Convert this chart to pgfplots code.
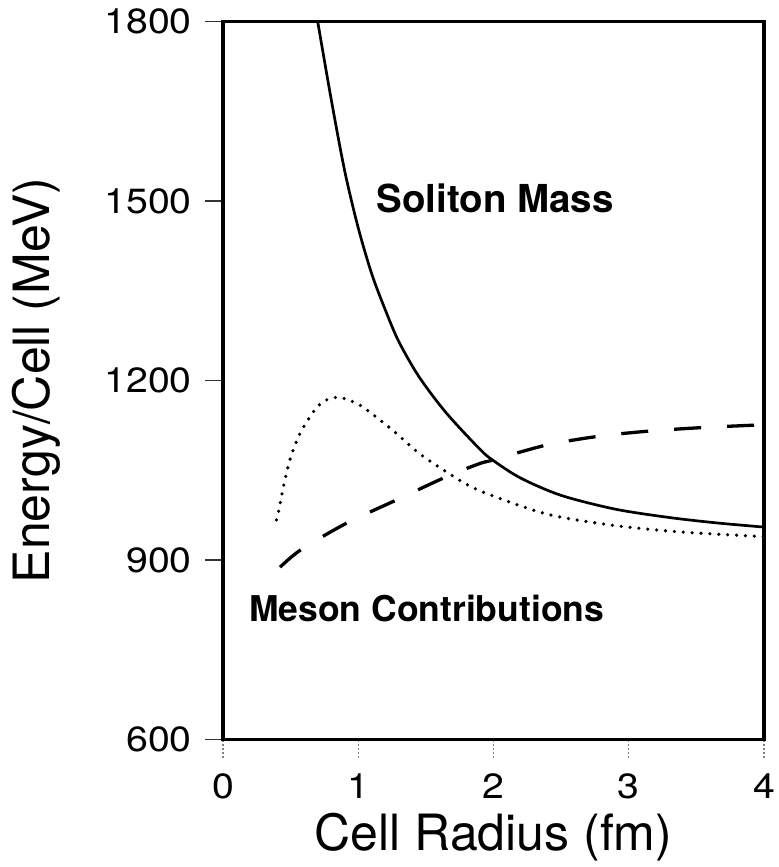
\documentclass[border=0pt]{standalone}
\usepackage{fontspec}
\setmainfont{TeX Gyre Heros}
\newfontfamily\tickfont[FakeStretch=1.12]{TeX Gyre Heros}
\usepackage{pgfplots}
\pgfplotsset{compat=1.18}
\begin{document}
\begin{tikzpicture}
\useasboundingbox (-223bp,-127.5bp) rectangle (556bp,739.5bp);
\begin{axis}[
  at={(0,0)}, anchor=south west,
  scale only axis, width=541bp, height=718bp,
  xmin=0, xmax=4, ymin=600, ymax=1800,
  xtick={0,1,2,3,4}, ytick={600,900,1200,1500,1800},
  xtick pos=bottom, ytick pos=left,
  tick align=outside, major tick length=18bp,
  axis line style={line width=3.2bp},
  ytick style={line width=1.4bp, black!80},
  xtick style={line width=1.1bp, black!50, dash pattern=on 2bp off 2bp},
  /pgf/number format/assume math mode=true,
  /pgf/number format/1000 sep={},
  ticklabel style={font=\tickfont\fontsize{35bp}{35bp}\selectfont, inner sep=0pt},
  xticklabel style={anchor=north, yshift=-15.5bp},
  yticklabel style={anchor=east, xshift=-13bp},
  xlabel={Cell Radius (fm)}, ylabel={Energy/Cell (MeV)},
  label style={font=\fontsize{50bp}{50bp}\selectfont},
  xlabel style={at={(axis description cs:0.5,-0.1547)}, anchor=base},
  ylabel style={at={(axis description cs:-0.3198,0.5)}, anchor=base},
]
% Soliton Mass (solid)
\addplot[black, line width=2.7bp, smooth] coordinates {
 (0.688,1816) (0.70,1800) (0.80,1670) (0.90,1550) (1.00,1455) (1.10,1378) (1.20,1318)
 (1.30,1265) (1.45,1206) (1.65,1146) (1.90,1085) (2.00,1066) (2.20,1037)
 (2.50,1008) (2.90,985) (3.30,971) (3.65,962) (4.00,955)};
% dashed
\addplot[black, line width=3.3bp, dash pattern=on 27bp off 26bp, smooth] coordinates {
 (0.422,888) (0.575,917) (0.909,961) (1.279,1000) (1.650,1039) (1.896,1061)
 (1.995,1067) (2.39,1092) (2.785,1107) (3.18,1116) (3.6,1122) (4.0,1126)};
% dotted
\addplot[black, line width=3.6bp, line cap=round, dash pattern=on 0bp off 8.9bp, smooth] coordinates {
 (0.395,967) (0.41,980) (0.452,1028) (0.501,1072) (0.575,1114) (0.686,1153)
 (0.761,1167) (0.847,1172) (0.921,1168) (1.032,1156) (1.254,1117) (1.452,1078)
 (1.674,1044) (1.896,1016) (2.39,977) (2.884,958) (3.378,947) (4.0,939)};
\node[anchor=base, font=\bfseries\fontsize{38.5bp}{38.5bp}\selectfont, inner sep=0pt] at (axis cs:2.011,1481) {Soliton Mass};
\node[anchor=base, font=\bfseries\fontsize{35.5bp}{35.5bp}\selectfont, inner sep=0pt] at (axis cs:1.506,798) {Meson Contributions};
\end{axis}
\end{tikzpicture}
\end{document}
